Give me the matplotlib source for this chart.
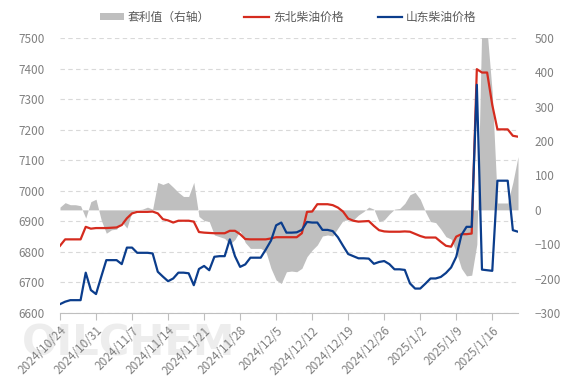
import matplotlib
matplotlib.use('Agg')
import matplotlib.pyplot as plt
import pandas as pd

plt.rcParams['font.family'] = ['Noto Sans CJK SC', 'DejaVu Sans']

dates = pd.date_range('2024-10-24', '2025-01-21', freq='D')

northeast = [
    6820, 6841, 6841, 6841, 6841, 6882, 6876, 6878, 6878, 6878,
    6879, 6880, 6888, 6910, 6926, 6931, 6931, 6931, 6932, 6926,
    6907, 6903, 6896, 6902, 6902, 6902, 6899, 6865, 6863, 6862,
    6861, 6861, 6861, 6869, 6869, 6858, 6842, 6841, 6841, 6841,
    6841, 6844, 6848, 6848, 6848, 6848, 6848, 6861, 6931, 6932,
    6956, 6956, 6956, 6953, 6945, 6932, 6909, 6902, 6899, 6900,
    6901, 6885, 6871, 6867, 6866, 6866, 6866, 6867, 6866, 6859,
    6852, 6847, 6847, 6847, 6833, 6820, 6817, 6850, 6858, 6858,
    6860, 7398, 7387, 7387, 7281, 7201, 7201, 7201, 7180, 7177,
]

shandong = [
    6629, 6637, 6642, 6642, 6642, 6732, 6675, 6662, 6718, 6773,
    6773, 6773, 6760, 6814, 6814, 6797, 6797, 6797, 6795, 6735,
    6719, 6704, 6713, 6732, 6732, 6730, 6691, 6744, 6754, 6740,
    6784, 6786, 6786, 6841, 6786, 6751, 6759, 6781, 6781, 6781,
    6808, 6837, 6887, 6896, 6863, 6863, 6864, 6872, 6898, 6896,
    6896, 6872, 6872, 6868, 6848, 6820, 6793, 6786, 6779, 6779,
    6778, 6761, 6767, 6770, 6760, 6743, 6743, 6741, 6697, 6680,
    6680, 6696, 6713, 6713, 6718, 6731, 6749, 6784, 6855, 6882,
    6882, 7347, 6742, 6740, 6738, 7033, 7033, 7033, 6871, 6866,
]

arbitrage = [
    8, 21, 15, 15, 12, -24, 24, 31, -29, -68,
    -58, -56, -34, -53, -5, 0, 2, 8, 2, 80,
    74, 80, 66, 51, 39, 39, 80, -19, -31, -34,
    -73, -78, -83, -100, -86, -60, -95, -112, -112, -112,
    -121, -170, -204, -214, -180, -178, -180, -170, -136, -117,
    -102, -76, -73, -76, -53, -31, -29, -29, -15, -5,
    8, 2, -34, -29, -12, 2, 4, 19, 44, 51,
    31, -5, -34, -37, -56, -78, -85, -122, -170, -192,
    -190, -100, 560, 520, 340, 20, 20, 20, 80, 155,
]

left_ticks = list(range(6600, 7501, 100))
right_ticks = list(range(-300, 501, 100))
tick_dates = dates[::7]
tick_labels = [f"{d.year}/{d.month}/{d.day}" for d in tick_dates]

label_grey = '#808080'
fig = plt.figure(figsize=(5.67, 3.78), dpi=100)
ax = fig.add_axes([60/567, 1-313/378, 458/567, 275/378])

# watermark (behind everything)
fig.text(22/567, 1-322/378, 'OILCHEM', fontsize=30, fontweight='bold',
         color='#ededed', ha='left', va='top', family='DejaVu Sans', zorder=-5)

ax.set_ylim(6600, 7500)
ax.set_yticks(left_ticks)
ax.set_xlim(dates[0], dates[-1])
ax.grid(axis='y', color='#d9d9d9', linestyle=(0, (4, 3)), linewidth=0.8)
for s in ['top', 'left', 'right']:
    ax.spines[s].set_visible(False)
ax.spines['bottom'].set_color('#bfbfbf')
ax.tick_params(axis='y', length=0, pad=11, labelcolor=label_grey, labelsize=8.5)
ax.set_xticks(tick_dates)
ax.set_xticklabels(tick_labels, rotation=45, ha='right', rotation_mode='anchor')
ax.tick_params(axis='x', length=5, color='#bfbfbf', labelcolor=label_grey,
               labelsize=8.5, pad=3)
ax.patch.set_visible(False)

ax2 = ax.twinx()
area = ax2.fill_between(dates, 0, arbitrage, color='#bfbfbf', linewidth=0)
ax2.set_ylim(-300, 500)
ax2.set_yticks(right_ticks)
for s in ax2.spines.values():
    s.set_visible(False)
ax2.tick_params(axis='y', length=0, pad=12, labelcolor=label_grey, labelsize=8.5)
ax2.patch.set_visible(False)

ax3 = ax.twinx()
ax3.set_ylim(6600, 7500)
l1, = ax3.plot(dates, northeast, color='#d52b1e', linewidth=1.6)
l2, = ax3.plot(dates, shandong, color='#0b3d8c', linewidth=1.6)
ax3.axis('off')

fig.legend([area, l1, l2], ['套利值（右轴）', '东北柴油价格', '山东柴油价格'],
           loc='center', bbox_to_anchor=(288/567, 1-17/378), ncol=3,
           frameon=False, fontsize=8.5, handlelength=2.1, handleheight=0.6,
           handletextpad=0.3, columnspacing=2.9, labelcolor='#595959')

fig.savefig('out.png', dpi=100)
